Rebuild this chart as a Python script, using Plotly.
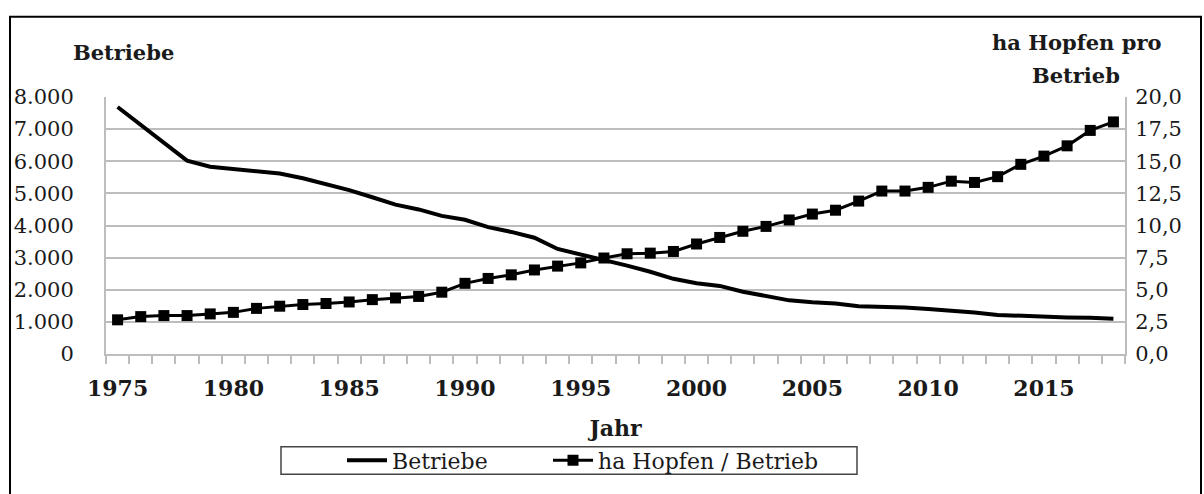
import plotly.graph_objects as go

years = list(range(1975, 2019))
betriebe = [7690, 7140, 6600, 6020, 5830, 5760, 5690, 5620, 5470, 5290,
            5100, 4880, 4650, 4500, 4300, 4180, 3950, 3800, 3620, 3270,
            3100, 2950, 2750, 2560, 2340, 2200, 2120, 1940, 1790, 1670,
            1610, 1570, 1490, 1480, 1450, 1400, 1360, 1290, 1215, 1180,
            1170, 1140, 1130, 1100]
ha_pro_betrieb = [2.66, 2.91, 2.99, 2.99, 3.12, 3.24, 3.55, 3.72, 3.85, 3.93,
                  4.05, 4.23, 4.36, 4.48, 4.81, 5.50, 5.88, 6.16, 6.54, 6.84,
                  7.09, 7.47, 7.80, 7.85, 7.98, 8.56, 9.07, 9.55, 9.93, 10.43,
                  10.89, 11.19, 11.90, 12.68, 12.68, 12.97, 13.45, 13.35, 13.80, 14.76,
                  15.40, 16.20, 17.40, 18.06]
left_ticks = [0, 1000, 2000, 3000, 4000, 5000, 6000, 7000, 8000]
left_labels = ["0", "1.000", "2.000", "3.000", "4.000", "5.000", "6.000", "7.000", "8.000"]
right_ticks = [0, 2.5, 5, 7.5, 10, 12.5, 15, 17.5, 20]
right_labels = ["0,0", "2,5", "5,0", "7,5", "10,0", "12,5", "15,0", "17,5", "20,0"]
year_ticks = [1975, 1980, 1985, 1990, 1995, 2000, 2005, 2010, 2015]

FONT = "DejaVu Serif"
TXT = "#1a1a1a"
GRID = "#bdbdbd"

fig = go.Figure()
fig.add_trace(go.Scatter(x=years, y=betriebe, name="Betriebe", mode="lines",
                         line=dict(color="black", width=4), yaxis="y",
                         legend="legend"))
fig.add_trace(go.Scatter(x=years, y=ha_pro_betrieb, name="ha Hopfen / Betrieb",
                         mode="lines+markers",
                         line=dict(color="black", width=3),
                         marker=dict(symbol="square", size=11, color="black"),
                         yaxis="y2", legend="legend2"))

W, H = 1204, 494
# plot area in page pixels
PL, PR, PT, PB = 106, 1125, 97, 360
L, T, R, B = PL, PT, W - PR, H - PB
pw, ph = PR - PL, PB - PT

def px(x):
    return (x - PL) / pw

def py(y):
    return (PB - y) / ph

leg_common = dict(orientation="h", yanchor="middle", xanchor="left",
                  borderwidth=0, bgcolor="rgba(0,0,0,0)",
                  font=dict(family=FONT, size=22, color=TXT), itemwidth=40)

fig.update_layout(
    width=W, height=H,
    margin=dict(l=L, r=R, t=T, b=B),
    paper_bgcolor="white", plot_bgcolor="white",
    font=dict(family=FONT, color=TXT),
    showlegend=True,
    legend=dict(x=px(342), y=py(469), **leg_common),
    legend2=dict(x=px(548), y=py(469), **leg_common),
    xaxis=dict(range=[1974.5, 2018.5], tickvals=year_ticks,
               ticktext=[str(y) for y in year_ticks],
               tickfont=dict(family=FONT, size=22, color=TXT, weight="bold"),
               ticks="outside", ticklen=0, tickcolor=GRID,
               ticklabelstandoff=14,
               showline=True, linecolor=GRID, linewidth=2,
               showgrid=False, zeroline=False,
               minor=dict(ticks="outside", tick0=1974.5, dtick=1, ticklen=8,
                          tickcolor=GRID, tickwidth=2, showgrid=False),
               title=dict(text="<b>Jahr</b>", font=dict(family=FONT, size=22, color=TXT),
                          standoff=20)),
    yaxis=dict(range=[0, 8000], tickvals=left_ticks, ticktext=left_labels,
               tickfont=dict(family=FONT, size=21, color=TXT),
               ticks="", ticklabelstandoff=26,
               showline=True, linecolor=GRID, linewidth=2,
               showgrid=True, gridcolor=GRID, gridwidth=2, zeroline=False),
    yaxis2=dict(range=[0, 20], tickvals=right_ticks, ticktext=right_labels,
                overlaying="y", side="right",
                tickfont=dict(family=FONT, size=21, color=TXT),
                ticks="", ticklabelstandoff=4,
                showline=True, linecolor=GRID, linewidth=2,
                showgrid=False, zeroline=False),
)

fig.add_annotation(text="<b>Betriebe</b>", xref="paper", yref="paper",
                   x=px(123), y=py(51), xanchor="center", yanchor="middle",
                   showarrow=False, font=dict(family=FONT, size=21, color=TXT))
fig.add_annotation(text="<b>ha Hopfen pro</b>", xref="paper", yref="paper",
                   x=px(1076), y=py(41), xanchor="center", yanchor="middle",
                   showarrow=False, font=dict(family=FONT, size=21, color=TXT))
fig.add_annotation(text="<b>Betrieb</b>", xref="paper", yref="paper",
                   x=px(1076), y=py(75), xanchor="center", yanchor="middle",
                   showarrow=False, font=dict(family=FONT, size=21, color=TXT))

# legend box
fig.add_shape(type="rect", xref="paper", yref="paper",
              x0=px(281), x1=px(857), y0=py(483), y1=py(455),
              line=dict(color="#444", width=1.5), fillcolor="rgba(0,0,0,0)", layer="above")
# outer frame
fig.add_shape(type="rect", xref="paper", yref="paper",
              x0=px(10), x1=px(1201), y0=py(530), y1=py(15),
              line=dict(color="black", width=2), fillcolor="rgba(0,0,0,0)", layer="above")

fig.write_html("out.html",
               config={"displayModeBar": False},
               post_script="document.body.style.margin='0';"
                           "document.body.style.overflow='hidden';"
                           "document.documentElement.style.overflow='hidden';")
